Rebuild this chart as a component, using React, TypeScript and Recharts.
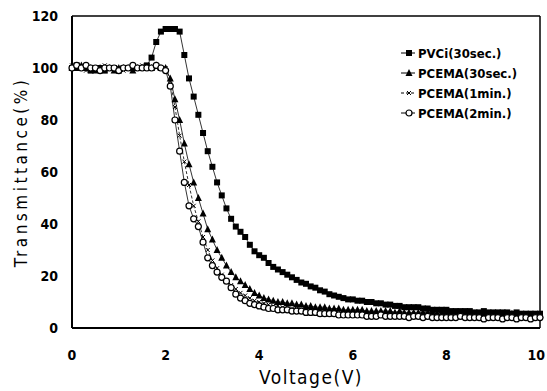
import React from 'react';
import { LineChart, Line, XAxis, YAxis, ReferenceLine } from 'recharts';

const voltage = [
  0.0, 0.1, 0.2, 0.3, 0.4, 0.5, 0.6, 0.7, 0.8, 0.9,
  1.0, 1.1, 1.2, 1.3, 1.4, 1.5, 1.6, 1.7, 1.8, 1.9,
  2.0, 2.1, 2.2, 2.3, 2.4, 2.5, 2.6, 2.7, 2.8, 2.9,
  3.0, 3.1, 3.2, 3.3, 3.4, 3.5, 3.6, 3.7, 3.8, 3.9,
  4.0, 4.1, 4.2, 4.3, 4.4, 4.5, 4.6, 4.7, 4.8, 4.9,
  5.0, 5.1, 5.2, 5.3, 5.4, 5.5, 5.6, 5.7, 5.8, 5.9,
  6.0, 6.1, 6.2, 6.3, 6.4, 6.5, 6.6, 6.7, 6.8, 6.9,
  7.0, 7.1, 7.2, 7.3, 7.4, 7.5, 7.6, 7.7, 7.8, 7.9,
  8.0, 8.1, 8.2, 8.3, 8.4, 8.5, 8.6, 8.7, 8.8, 8.9,
  9.0, 9.1, 9.2, 9.3, 9.4, 9.5, 9.6, 9.7, 9.8, 9.9,
  10.0,
];

const pvci30s = [
  100, 101, 100, 100, 99, 100, 100, 99, 100, 100,
  99, 100, 100, 100, 100, 100, 101, 104, 110, 114,
  115, 115, 115, 114, 105, 96, 89, 82, 75, 68,
  62, 56, 51, 46, 42, 39, 37, 35, 32, 29.5,
  28, 27, 25, 23.5, 22.5, 21.5, 20.5, 19.5, 18.5, 17.5,
  17, 16, 15.5, 14.5, 14, 13, 12.5, 12, 11.5, 11,
  11, 10.5, 10.5, 10, 10, 9.5, 9.5, 9, 9, 8.5,
  8.5, 8, 8, 8, 8, 7.5, 7.5, 7, 7, 7,
  7, 6.5, 6.5, 6.5, 6.5, 6.5, 6, 6, 6.5, 6,
  6, 6, 6, 6, 5.5, 6, 5.5, 5.5, 5.5, 5.5,
  5.5,
];

const pcema30s = [
  100, 100, 101, 100, 100, 99, 100, 100, 100, 99,
  100, 100, 100, 99, 100, 100, 100, 100, 101, 100,
  100, 96, 88, 80, 71, 63, 56, 50, 44, 38,
  34, 30, 27, 24, 21.5, 19.5, 18, 16.5, 15, 13.5,
  12.5, 11.5, 11, 10.5, 10, 10, 9.5, 9.5, 9, 9,
  8.5, 8.5, 8, 8, 8, 7.5, 7.5, 7.5, 7, 7,
  7, 7, 7, 6.5, 6.5, 6.5, 6.5, 6.5, 6.5, 6,
  6.5, 6, 6, 6, 6, 6, 6, 6, 5.5, 6,
  6, 5.5, 5.5, 5.5, 6, 5.5, 5.5, 5.5, 5.5, 5,
  5.5, 5.5, 5, 5, 5.5, 5, 5, 5, 5, 5,
  5,
];

const pcema1m = [
  101, 100, 100, 99, 100, 100, 100, 101, 100, 100,
  100, 99, 100, 100, 100, 101, 100, 100, 100, 100,
  100, 95, 85, 74, 64, 55, 47, 41, 35, 30,
  26, 23, 20.5, 18.5, 16.5, 15, 13.5, 12.5, 11.5, 10.5,
  10, 9.5, 9, 8.5, 8.5, 8, 8, 7.5, 7.5, 7,
  7, 7, 6.5, 6.5, 6.5, 6, 6, 6, 6, 6,
  6, 5.5, 5.5, 5.5, 5.5, 5.5, 5.5, 5, 5.5, 5,
  5, 5, 5, 5, 5, 5, 5, 5, 5, 4.5,
  5, 5, 4.5, 5, 5, 4.5, 5, 4.5, 4.5, 5,
  4.5, 4.5, 5, 4.5, 4.5, 4.5, 4.5, 4.5, 4.5, 4.5,
  4.5,
];

const pcema2m = [
  100, 101, 100, 101, 100, 100, 99, 100, 100, 100,
  99, 100, 100, 101, 100, 100, 100, 100, 101, 100,
  99, 93, 80, 68, 56, 47, 42, 39, 33, 27,
  24, 21.5, 19.5, 18, 15.5, 13, 11.5, 10.5, 9.5, 9,
  8.5, 8, 7.5, 7.5, 7, 7, 7, 6.5, 6.5, 6.5,
  6, 6, 6, 5.5, 5.5, 5.5, 5.5, 5, 5, 5,
  5, 5, 5, 4.5, 4.5, 4.5, 5, 4.5, 4.5, 4.5,
  4.5, 4.5, 4, 4.5, 4.5, 4, 4.5, 4, 4, 4,
  4, 4, 4, 4.5, 4, 4, 4, 4, 3.5, 4,
  4, 4, 3.5, 4, 4, 3.5, 4, 4, 3.5, 4,
  4,
];

const seriesNames = ['PVCi(30sec.)', 'PCEMA(30sec.)', 'PCEMA(1min.)', 'PCEMA(2min.)'];
const xTicks = [0, 2, 4, 6, 8, 10];
const yTicks = [0, 20, 40, 60, 80, 100, 120];

const data = voltage.map((v, i) => ({
  v,
  s0: pvci30s[i],
  s1: pcema30s[i],
  s2: pcema1m[i],
  s3: pcema2m[i],
}));

const FONT = "'DejaVu Sans Condensed', 'DejaVu Sans', sans-serif";

const Square = (p: any) => {
  const { cx, cy, index } = p;
  if (cx == null || cy == null) return <g key={index} />;
  return <rect key={index} x={cx - 3} y={cy - 3} width={6} height={6} fill="#000" />;
};
const Tri = (p: any) => {
  const { cx, cy, index } = p;
  if (cx == null || cy == null) return <g key={index} />;
  return <polygon key={index} points={`${cx},${cy - 4} ${cx - 3.5},${cy + 3} ${cx + 3.5},${cy + 3}`} fill="#000" />;
};
const Cross = (p: any) => {
  const { cx, cy, index } = p;
  if (cx == null || cy == null) return <g key={index} />;
  return (
    <path key={index} d={`M${cx - 2},${cy - 2}L${cx + 2},${cy + 2}M${cx - 2},${cy + 2}L${cx + 2},${cy - 2}`} stroke="#000" strokeWidth={1} />
  );
};
const Circ = (p: any) => {
  const { cx, cy, index } = p;
  if (cx == null || cy == null) return <g key={index} />;
  return <circle key={index} cx={cx} cy={cy} r={3} fill="#fff" stroke="#000" strokeWidth={1.2} />;
};

const markers = [Square, Tri, Cross, Circ];

const LegendBox = () => (
  <div
    style={{
      position: 'absolute',
      left: 400,
      top: 43,
      fontFamily: FONT,
      fontStretch: 'condensed',
      fontWeight: 'bold',
      fontSize: 13,
      color: '#000',
    }}
  >
    {seriesNames.map((n, i) => {
      const M = markers[i];
      return (
        <div key={n} style={{ display: 'flex', alignItems: 'center', height: 20 }}>
          <svg width={16} height={12} style={{ marginRight: 2 }}>
            <line x1={1} y1={6} x2={15} y2={6} stroke="#000" strokeWidth={1} strokeDasharray={i === 2 ? '3 2' : undefined} />
            <M cx={9} cy={6} index={0} />
          </svg>
          <span>{n}</span>
        </div>
      );
    })}
  </div>
);

const YLabel = (props: any) => {
  const vb = props.viewBox || {};
  const x = 22;
  const y = (vb.y ?? 16) + (vb.height ?? 312) / 2;
  return (
    <text
      x={x}
      y={y}
      transform={`rotate(-90, ${x}, ${y})`}
      textAnchor="middle"
      dominantBaseline="middle"
      style={{ fontFamily: FONT, fontSize: 17, letterSpacing: 3.5 }}
      fill="#000"
    >
      Transmittance(%)
    </text>
  );
};

const XTick = (props: any) => {
  const { x, y, payload } = props;
  const last = payload.value === 10;
  return (
    <text
      x={last ? x + 6 : x}
      y={y}
      dy="0.71em"
      textAnchor={last ? 'end' : 'middle'}
      fill="#000"
      style={{ fontFamily: FONT, fontWeight: 'bold', fontSize: 14 }}
    >
      {payload.value}
    </text>
  );
};

const tickStyle = { fill: '#000', fontFamily: FONT, fontWeight: 'bold', fontSize: 14 } as any;

export default function App() {
  return (
    <div style={{ position: 'absolute', left: 0, top: 0, width: 547, height: 391, background: '#fff' }}>
      <LineChart width={547} height={391} data={data} margin={{ top: 16, right: 7, left: 12, bottom: 33 }}>
        <XAxis
          dataKey="v"
          type="number"
          domain={[0, 10]}
          ticks={xTicks}
          tickLine={false}
          tickSize={6}
          tickMargin={16}
          axisLine={{ stroke: '#000', strokeWidth: 2 }}
          tick={<XTick />}
          height={30}
          label={{ value: 'Voltage(V)', position: 'insideBottom', offset: -26, dx: 5, style: { fontFamily: FONT, fontSize: 19, fill: '#000', letterSpacing: 1.5 } }}
        />
        <YAxis
          type="number"
          domain={[0, 120]}
          ticks={yTicks}
          tickLine={false}
          tickSize={6}
          tickMargin={8}
          width={60}
          axisLine={{ stroke: '#000', strokeWidth: 2 }}
          tick={tickStyle}
          label={<YLabel />}
        />
        <ReferenceLine y={120} stroke="#000" strokeWidth={1.5} />
        <ReferenceLine x={10} stroke="#000" strokeWidth={1.5} />
        <Line dataKey="s0" name={seriesNames[0]} stroke="#000" strokeWidth={0.8} dot={Square} isAnimationActive={false} />
        <Line dataKey="s1" name={seriesNames[1]} stroke="#000" strokeWidth={0.8} dot={Tri} isAnimationActive={false} />
        <Line dataKey="s2" name={seriesNames[2]} stroke="#000" strokeWidth={0.8} strokeDasharray="3 2" dot={Cross} isAnimationActive={false} />
        <Line dataKey="s3" name={seriesNames[3]} stroke="#000" strokeWidth={0.8} dot={Circ} isAnimationActive={false} />
      </LineChart>
      <LegendBox />
    </div>
  );
}
